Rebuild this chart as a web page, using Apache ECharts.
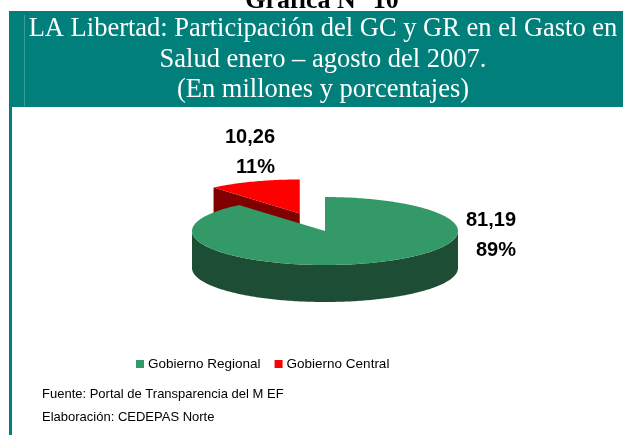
<!DOCTYPE html>
<html>
<head>
    <meta charset="utf-8">
    <title>Gráfica N° 10</title>
    <script src="https://cdn.jsdelivr.net/npm/echarts@6/dist/echarts.min.js"></script>
    <style>
        html, body { margin: 0; padding: 0; background: #ffffff; }
        #chart { width: 623px; height: 435px; }
    </style>
</head>
<body>
<div id="chart"></div>
<script>
    // datos
    var categories = ['Gobierno Regional', 'Gobierno Central'];
    var values = [81.19, 10.26];
    var topColors = ['#339966', '#ff0000'];
    var sideColors = ['#1e4d35', '#800000'];
    var explode = [0, 0.55];

    // geometria del pie 3D
    var CX = 325, CY = 231, RX = 133, RY = 34, DEPTH = 37;
    // posicion de etiquetas (borde derecho) respecto al centro
    var labelOffsets = [[191, -11], [-50, -94]];
    var LINE_GAP = 30;

    var total = values.reduce(function (a, b) { return a + b; }, 0);

    function pt(cx, cy, t, dy) {
        return [cx + RX * Math.sin(t), cy - RY * Math.cos(t) + (dy || 0)];
    }

    function arc(cx, cy, t1, t2, dy) {
        var pts = [];
        var n = Math.max(2, Math.ceil(Math.abs(t2 - t1) / (Math.PI / 180)));
        for (var k = 0; k <= n; k++) {
            pts.push(pt(cx, cy, t1 + (t2 - t1) * k / n, dy));
        }
        return pts;
    }

    function fmt(v) {
        return v.toFixed(2).replace('.', ',');
    }

    function makeRender(i) {
        return function (params, api) {
            var v = api.value(0);
            var before = 0;
            for (var j = 0; j < i; j++) before += values[j];
            var t1 = before / total * Math.PI * 2;
            var t2 = (before + v) / total * Math.PI * 2;
            var mid = (t1 + t2) / 2;
            var cx = CX + explode[i] * RX * Math.sin(mid);
            var cy = CY - explode[i] * RY * Math.cos(mid);
            var side = sideColors[i];
            var children = [];

            // caras radiales visibles
            if (Math.cos(t1 - Math.PI / 2) < -1e-6) {
                var p = pt(cx, cy, t1);
                children.push({type: 'polygon', shape: {points: [[cx, cy], p, [p[0], p[1] + DEPTH], [cx, cy + DEPTH]]}, style: {fill: side}});
            }
            if (Math.cos(t2 + Math.PI / 2) < -1e-6) {
                var q = pt(cx, cy, t2);
                children.push({type: 'polygon', shape: {points: [[cx, cy], q, [q[0], q[1] + DEPTH], [cx, cy + DEPTH]]}, style: {fill: side}});
            }
            // pared frontal
            var s = Math.max(t1, Math.PI / 2), e = Math.min(t2, Math.PI * 1.5);
            if (s < e) {
                var wall = arc(cx, cy, s, e, 0).concat(arc(cx, cy, e, s, DEPTH));
                children.push({type: 'polygon', shape: {points: wall}, style: {fill: side}});
            }
            // cara superior
            children.push({
                type: 'polygon',
                shape: {points: [[cx, cy]].concat(arc(cx, cy, t1, t2, 0))},
                style: {fill: topColors[i]}
            });
            // etiquetas
            var lx = CX + labelOffsets[i][0], ly = CY + labelOffsets[i][1];
            var lbl = [fmt(v), Math.round(v / total * 100) + '%'];
            for (var k = 0; k < 2; k++) {
                children.push({
                    type: 'text',
                    style: {
                        text: lbl[k], x: lx, y: ly + k * LINE_GAP,
                        fill: '#000', fontSize: 20, fontWeight: 'bold',
                        fontFamily: 'Liberation Sans', align: 'right', verticalAlign: 'middle'
                    }
                });
            }
            return {type: 'group', children: children};
        };
    }

    var series = categories.map(function (name, i) {
        return {
            name: name,
            type: 'custom',
            coordinateSystem: 'none',
            z: 3 - i,
            silent: true,
            itemStyle: {color: topColors[i]},
            renderItem: makeRender(i),
            data: [values[i]]
        };
    });

    var chart = echarts.init(document.getElementById('chart'));
    chart.setOption({
        animation: false,
        backgroundColor: '#ffffff',
        legend: {
            data: categories,
            left: 131,
            top: 352,
            icon: 'rect',
            itemWidth: 8,
            itemHeight: 8,
            itemGap: 14,
            selectedMode: false,
            textStyle: {fontFamily: 'Liberation Sans', fontSize: 13.5, color: '#000', padding: [0, 0, 0, -1]}
        },
        graphic: [
            {
                type: 'text', x: 322, y: 14.5,
                style: {text: 'Gráfica N° 10', fill: '#000', fontSize: 26, fontWeight: 'bold',
                    fontFamily: 'Liberation Serif', align: 'center', verticalAlign: 'bottom'}
            },
            {type: 'rect', shape: {x: 9, y: 11, width: 614, height: 96}, style: {fill: '#007f7b'}},
            {type: 'rect', shape: {x: 9, y: 107, width: 3, height: 328}, style: {fill: '#007f7b'}},
            {type: 'rect', shape: {x: 24, y: 15, width: 1, height: 91}, style: {fill: '#3b9c97'}},
            {
                type: 'text', x: 323, y: 14,
                style: {text: 'LA Libertad: Participación del GC y GR en el Gasto en\nSalud enero – agosto del 2007.\n(En millones y porcentajes)',
                    fill: '#fff', fontSize: 26.5, lineHeight: 30.5, fontFamily: 'Liberation Serif',
                    align: 'center', verticalAlign: 'top'}
            },
            {
                type: 'text', x: 42, y: 394,
                style: {text: 'Fuente: Portal de Transparencia del M EF', fill: '#000', fontSize: 13,
                    fontFamily: 'Liberation Sans', verticalAlign: 'middle'}
            },
            {
                type: 'text', x: 42, y: 417,
                style: {text: 'Elaboración: CEDEPAS Norte', fill: '#000', fontSize: 13,
                    fontFamily: 'Liberation Sans', verticalAlign: 'middle'}
            }
        ],
        series: series
    });
</script>
</body>
</html>
